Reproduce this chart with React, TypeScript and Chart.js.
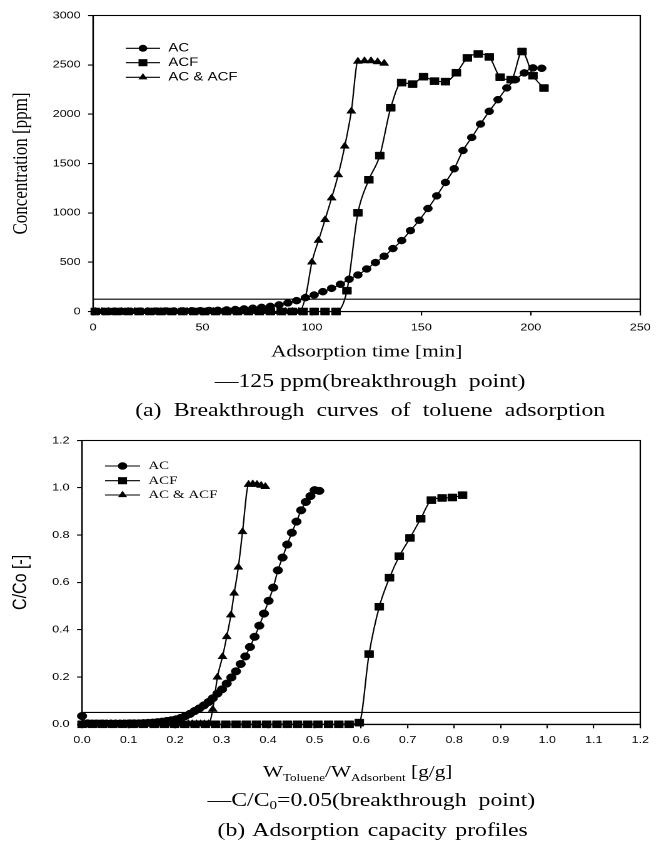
import React, { useEffect, useRef } from "react";
import { Chart, registerables } from "chart.js";

Chart.register(...registerables);
document.body.style.margin = "0";

const STRETCH = 1.2505;
const LOGICAL_W = 535;

// ---------- Panel (a): breakthrough curves ----------
const acTime = [1, 5, 9, 13, 17, 21, 25, 29, 33, 37, 41, 45, 49, 53, 57, 61, 65, 69, 73, 77, 81, 85, 89, 93, 97, 101, 105, 109, 113, 117, 121, 125, 129, 133, 137, 141, 145, 149, 153, 157, 161, 165, 169, 173, 177, 181, 185, 189, 193, 197, 201, 205];
const acConc = [0, 0, 1, 2, 2, 3, 3, 4, 5, 5, 6, 7, 8, 10, 12, 16, 20, 26, 33, 42, 52, 67, 87, 110, 140, 167, 201, 235, 276, 327, 370, 431, 496, 560, 638, 719, 820, 925, 1044, 1172, 1308, 1447, 1632, 1764, 1900, 2029, 2147, 2266, 2350, 2418, 2469, 2465];
const acfTime = [1, 6, 11, 16, 21, 26, 31, 36, 41, 46, 51, 56, 61, 66, 71, 76, 81, 86, 91, 96, 101, 106, 111, 116, 121, 126, 131, 136, 141, 146, 151, 156, 161, 166, 171, 176, 181, 186, 191, 196, 201, 206];
const acfConc = [0, 0, 0, 0, 0, 0, 0, 0, 0, 0, 0, 0, 0, 0, 0, 0, 0, 0, 0, 0, 0, 0, 0, 211, 1000, 1335, 1580, 2065, 2320, 2305, 2380, 2335, 2330, 2420, 2570, 2610, 2580, 2375, 2350, 2635, 2390, 2265];
const mixTime = [1, 4, 7, 10, 13, 16, 19, 22, 25, 28, 31, 34, 37, 40, 43, 46, 49, 52, 55, 58, 61, 64, 67, 70, 73, 76, 79, 82, 85, 88, 91, 94, 97, 100, 103, 106, 109, 112, 115, 118, 121, 124, 127, 130, 133];
const mixConc = [0, 0, 0, 0, 0, 0, 0, 0, 0, 0, 0, 0, 0, 0, 0, 0, 0, 0, 0, 0, 0, 0, 0, 0, 0, 0, 0, 0, 0, 0, 0, 0, 140, 500, 720, 930, 1150, 1385, 1675, 2030, 2535, 2540, 2540, 2530, 2515];
const timeTicks = [0, 50, 100, 150, 200, 250];
const concTicks = [0, 500, 1000, 1500, 2000, 2500, 3000];
const breakthroughPpm = 125;

// ---------- Panel (b): adsorption capacity ----------
const acRatioX = [0.000, 0.012, 0.022, 0.032, 0.042, 0.052, 0.062, 0.072, 0.082, 0.092, 0.102, 0.112, 0.122, 0.132, 0.142, 0.152, 0.162, 0.172, 0.182, 0.192, 0.202, 0.212, 0.222, 0.232, 0.242, 0.252, 0.262, 0.272, 0.281, 0.291, 0.301, 0.311, 0.321, 0.331, 0.341, 0.351, 0.361, 0.371, 0.381, 0.391, 0.401, 0.411, 0.421, 0.431, 0.441, 0.451, 0.461, 0.471, 0.481, 0.491, 0.500, 0.510];
const acRatioY = [0.035, 0.004, 0.003, 0.003, 0.003, 0.003, 0.003, 0.003, 0.003, 0.003, 0.004, 0.004, 0.004, 0.005, 0.006, 0.007, 0.009, 0.011, 0.014, 0.017, 0.021, 0.027, 0.035, 0.044, 0.056, 0.067, 0.080, 0.094, 0.110, 0.130, 0.148, 0.172, 0.198, 0.224, 0.255, 0.287, 0.327, 0.370, 0.417, 0.468, 0.522, 0.578, 0.651, 0.705, 0.760, 0.810, 0.857, 0.905, 0.940, 0.965, 0.990, 0.987];
const acfRatioX = [0.000, 0.022, 0.044, 0.066, 0.088, 0.110, 0.132, 0.155, 0.177, 0.199, 0.221, 0.243, 0.265, 0.287, 0.309, 0.331, 0.353, 0.375, 0.397, 0.419, 0.441, 0.463, 0.485, 0.507, 0.530, 0.552, 0.574, 0.596, 0.617, 0.639, 0.661, 0.682, 0.705, 0.728, 0.751, 0.774, 0.796, 0.818];
const acfRatioY = [0, 0, 0, 0, 0, 0, 0, 0, 0, 0, 0, 0, 0, 0, 0, 0, 0, 0, 0, 0, 0, 0, 0, 0, 0, 0, 0, 0.007, 0.297, 0.497, 0.620, 0.711, 0.788, 0.869, 0.948, 0.957, 0.959, 0.969];
const mixRatioX = [0.002, 0.011, 0.019, 0.028, 0.037, 0.046, 0.054, 0.063, 0.072, 0.080, 0.089, 0.098, 0.107, 0.115, 0.124, 0.133, 0.141, 0.150, 0.159, 0.168, 0.176, 0.185, 0.194, 0.202, 0.211, 0.220, 0.229, 0.237, 0.246, 0.255, 0.263, 0.272, 0.281, 0.291, 0.302, 0.311, 0.320, 0.327, 0.336, 0.345, 0.358, 0.367, 0.376, 0.385, 0.394];
const mixRatioY = [0.002, 0.002, 0.002, 0.002, 0.002, 0.002, 0.002, 0.002, 0.002, 0.002, 0.002, 0.002, 0.002, 0.002, 0.002, 0.002, 0.002, 0.002, 0.002, 0.002, 0.002, 0.002, 0.002, 0.002, 0.002, 0.002, 0.002, 0.002, 0.002, 0.002, 0.002, 0.002, 0.063, 0.199, 0.286, 0.370, 0.462, 0.554, 0.664, 0.814, 1.014, 1.016, 1.014, 1.010, 1.005];
const ratioXTicks = [0, 0.1, 0.2, 0.3, 0.4, 0.5, 0.6, 0.7, 0.8, 0.9, 1.0, 1.1, 1.2];
const ratioYTicks = [0, 0.2, 0.4, 0.6, 0.8, 1.0, 1.2];
const breakthroughRatio = 0.05;

const seriesLabels = ["AC", "ACF", "AC & ACF"];
const seriesStyles = ["circle", "rect", "triangle"];

const SANS = "'Liberation Sans', Arial, sans-serif";
const SERIF = "'Liberation Serif', 'Times New Roman', serif";

const pts = (xs: number[], ys: number[]) => xs.map((x, i) => ({ x, y: ys[i] }));

function drawMarker(ctx: CanvasRenderingContext2D, style: string, x: number, y: number, r: number) {
  ctx.beginPath();
  if (style === "circle") {
    ctx.arc(x, y, r, 0, Math.PI * 2);
  } else if (style === "rect") {
    const s = Math.SQRT1_2 * r;
    ctx.rect(x - s, y - s, 2 * s, 2 * s);
  } else {
    const h = Math.sin(Math.PI / 3) * r;
    ctx.moveTo(x, y - r);
    ctx.lineTo(x + h, y + r / 2);
    ctx.lineTo(x - h, y + r / 2);
    ctx.closePath();
  }
  ctx.fill();
}

type LegendSpec = { x1: number; x2: number; xm: number; xt: number; ys: number[]; font: string; radii: number[] };

function frameLegendPlugin(spec: LegendSpec) {
  return {
    id: "frameLegend",
    afterDraw(chart: any) {
      const { ctx, chartArea: a } = chart;
      ctx.save();
      ctx.strokeStyle = "#000";
      ctx.lineWidth = 1.1;
      ctx.strokeRect(a.left, a.top, a.right - a.left, a.bottom - a.top);
      ctx.fillStyle = "#000";
      ctx.font = spec.font;
      ctx.textBaseline = "middle";
      ctx.textAlign = "left";
      seriesLabels.forEach((label, i) => {
        const y = spec.ys[i];
        ctx.beginPath();
        ctx.moveTo(spec.x1, y);
        ctx.lineTo(spec.x2, y);
        ctx.stroke();
        drawMarker(ctx, seriesStyles[i], spec.xm, y, spec.radii[i]);
        ctx.fillText(label, spec.xt, y);
      });
      ctx.restore();
    },
  };
}

function seriesDataset(label: string, data: any[], style: string, radius: number) {
  return {
    label,
    data,
    borderColor: "#000",
    backgroundColor: "#000",
    borderWidth: 1.1,
    pointStyle: style,
    pointRadius: radius,
    pointBackgroundColor: "#000",
    pointBorderColor: "#000",
    pointBorderWidth: 0.5,
    cubicInterpolationMode: "monotone",
    tension: 0.4,
    clip: false,
  };
}

function refLine(data: any[]) {
  return { label: "ref", data, borderColor: "#000", borderWidth: 1.1, pointRadius: 0, tension: 0, clip: false };
}

function axisCommon(tickVals: number[], fmt: (v: number) => string) {
  return {
    type: "linear",
    afterBuildTicks: (scale: any) => {
      scale.ticks = tickVals.map((v) => ({ value: v }));
    },
    ticks: {
      color: "#000",
      font: { family: SANS, size: 10 },
      padding: 6,
      autoSkip: false,
      maxRotation: 0,
      minRotation: 0,
      callback: (v: any) => fmt(Number(v)),
    },
    grid: { display: true, drawOnChartArea: false, drawTicks: true, tickLength: 4, color: "#000", lineWidth: 1.1 },
    border: { display: true, color: "#000", width: 1.1 },
  };
}

function configA() {
  return {
    type: "line",
    data: {
      datasets: [
        seriesDataset("AC", pts(acTime, acConc), "circle", 3.5),
        seriesDataset("ACF", pts(acfTime, acfConc), "rect", 5),
        seriesDataset("AC & ACF", pts(mixTime, mixConc), "triangle", 4.2),
        refLine([{ x: timeTicks[0], y: breakthroughPpm }, { x: timeTicks[timeTicks.length - 1], y: breakthroughPpm }]),
      ],
    },
    options: {
      animation: false,
      responsive: false,
      devicePixelRatio: 2,
      events: [],
      layout: { padding: { top: 15.5, right: LOGICAL_W - 512, bottom: 0, left: 0 } },
      plugins: { legend: { display: false }, tooltip: { enabled: false } },
      scales: {
        x: {
          ...axisCommon(timeTicks, (v) => String(v)),
          min: 0,
          max: 250,
          title: { display: true, text: "Adsorption time [min]", color: "#000", font: { family: SERIF, size: 17 }, padding: { top: 0, bottom: 7.8 } },
          afterFit: (s: any) => { s.height = 58.5; },
        },
        y: {
          ...axisCommon(concTicks, (v) => String(v)),
          min: 0,
          max: 3000,
          title: { display: true, text: "Concentration [ppm]", color: "#000", font: { family: SERIF, size: 17 }, padding: { top: 6.6, bottom: 0 } },
          afterFit: (s: any) => { s.width = 74.4; },
        },
      },
    },
    plugins: [frameLegendPlugin({ x1: 100.6, x2: 128, xm: 114.3, xt: 134.6, ys: [48.3, 62.7, 77.3], font: `12px ${SANS}`, radii: [3.5, 5, 4.2] })],
  };
}

function configB() {
  return {
    type: "line",
    data: {
      datasets: [
        seriesDataset("AC", pts(acRatioX, acRatioY), "circle", 3.8),
        seriesDataset("ACF", pts(acfRatioX, acfRatioY), "rect", 5),
        seriesDataset("AC & ACF", pts(mixRatioX, mixRatioY), "triangle", 4.2),
        refLine([{ x: ratioXTicks[0], y: breakthroughRatio }, { x: ratioXTicks[ratioXTicks.length - 1], y: breakthroughRatio }]),
      ],
    },
    options: {
      animation: false,
      responsive: false,
      devicePixelRatio: 2,
      events: [],
      layout: { padding: { top: 20.5, right: LOGICAL_W - 512, bottom: 0, left: 0 } },
      plugins: { legend: { display: false }, tooltip: { enabled: false } },
      scales: {
        x: {
          ...axisCommon(ratioXTicks, (v) => v.toFixed(1)),
          min: 0,
          max: 1.2,
          afterFit: (s: any) => { s.height = 25.7; },
        },
        y: {
          ...axisCommon(ratioYTicks, (v) => v.toFixed(1)),
          min: 0,
          max: 1.2,
          title: { display: true, text: "C/Co [-]", color: "#000", font: { family: SANS, size: 16 }, padding: { top: 7.2, bottom: 0 } },
          afterFit: (s: any) => { s.width = 65.6; },
        },
      },
    },
    plugins: [frameLegendPlugin({ x1: 84, x2: 112, xm: 98, xt: 118.6, ys: [46, 60.7, 75], font: `12px ${SERIF}`, radii: [3.8, 5, 4.2] })],
  };
}

function PanelChart({ make, top, height }: { make: () => any; top: number; height: number }) {
  const ref = useRef<HTMLCanvasElement>(null);
  useEffect(() => {
    const chart = new Chart(ref.current as HTMLCanvasElement, make());
    return () => chart.destroy();
  }, []);
  return (
    <canvas
      ref={ref}
      width={LOGICAL_W}
      height={height}
      style={{ position: "absolute", left: 0, top, width: LOGICAL_W, height }}
    />
  );
}

function Label({ cx, cy, size, family, wordSpacing = 0, children }: { cx: number; cy: number; size: number; family: string; wordSpacing?: number; children: any }) {
  const lh = size * 1.4;
  return (
    <div
      style={{
        position: "absolute",
        left: cx - 300,
        width: 600,
        top: cy - lh / 2,
        height: lh,
        lineHeight: `${lh}px`,
        textAlign: "center",
        fontSize: size,
        fontFamily: family,
        whiteSpace: "pre",
        wordSpacing,
        color: "#000",
      }}
    >
      {children}
    </div>
  );
}

const captionA1 = "—125 ppm(breakthrough  point)";
const captionA2 = "(a) Breakthrough curves of toluene adsorption";
const captionB1a = "—C/C";
const captionB1b = "0";
const captionB1c = "=0.05(breakthrough  point)";
const captionB2 = "(b) Adsorption capacity profiles";

export default function App() {
  return (
    <div style={{ position: "relative", width: 669, height: 852, overflow: "hidden", background: "#fff" }}>
      <div
        style={{
          position: "absolute",
          left: 0,
          top: 0,
          width: LOGICAL_W,
          height: 852,
          transform: `scaleX(${STRETCH})`,
          transformOrigin: "0 0",
        }}
      >
        <PanelChart make={configA} top={0} height={370} />
        <Label cx={296} cy={381} size={19} family={SERIF}>{captionA1}</Label>
        <Label cx={296} cy={410} size={19} family={SERIF} wordSpacing={5}>{captionA2}</Label>
        <PanelChart make={configB} top={420} height={330} />
        <Label cx={286} cy={772} size={17} family={SERIF}>
          W<span style={{ fontSize: 10.5, verticalAlign: -4 }}>Toluene</span>/W
          <span style={{ fontSize: 10.5, verticalAlign: -4 }}>Adsorbent</span> [g/g]
        </Label>
        <Label cx={297} cy={800} size={19} family={SERIF}>
          {captionB1a}
          <span style={{ fontSize: 12, verticalAlign: -3 }}>{captionB1b}</span>
          {captionB1c}
        </Label>
        <Label cx={298} cy={830} size={19} family={SERIF} wordSpacing={2}>{captionB2}</Label>
      </div>
    </div>
  );
}
